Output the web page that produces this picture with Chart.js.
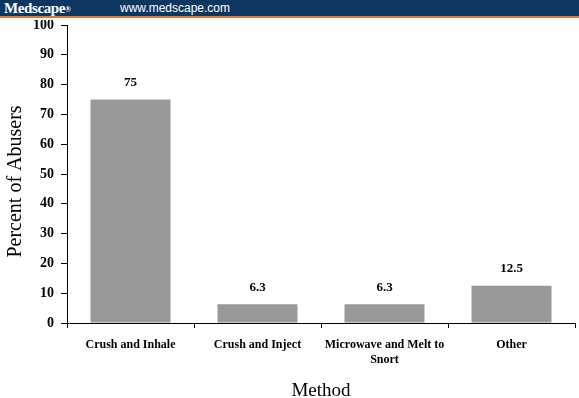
<!DOCTYPE html>
<html>
<head>
<meta charset="utf-8">
<script src="https://cdn.jsdelivr.net/npm/chart.js@4/dist/chart.umd.min.js"></script>
<style>
  html, body { margin: 0; padding: 0; background: #fff; }
  body { width: 579px; height: 398px; position: relative; overflow: hidden; }
  #hdr { position: absolute; left: 0; top: 0; width: 579px; height: 16px; background: #0d3760; border-bottom: 2px solid #e8772e; }
  #hdr .brand { position: absolute; left: 4px; top: 0px; font: bold 15px "Liberation Serif", serif; color: #fff; line-height: 16px; letter-spacing: -0.4px; }
  #hdr .brand sup { font-size: 8px; vertical-align: 1px; }
  #hdr .url { position: absolute; left: 120px; top: 0px; font: 12px "Liberation Sans", Arial, sans-serif; color: #fff; line-height: 16px; }
  #wrap { position: absolute; left: 0; top: 20px; width: 579px; height: 378px; }
</style>
</head>
<body>
<div id="hdr"><span class="brand">Medscape<sup>®</sup></span><span class="url">www.medscape.com</span></div>
<div id="wrap"><canvas id="c" width="579" height="378"></canvas></div>
<script>
const categories = ["Crush and Inhale", "Crush and Inject", ["Microwave and Melt to", "Snort"], "Other"];
const percentValues = [75, 6.3, 6.3, 12.5];
const valueLabels = ["75", "6.3", "6.3", "12.5"];
const yTicks = [0, 10, 20, 30, 40, 50, 60, 70, 80, 90, 100];

const serif = '"Liberation Serif", "Times New Roman", serif';

const valueLabelPlugin = {
  id: 'valueLabels',
  afterDatasetsDraw(chart) {
    const ctx = chart.ctx;
    const meta = chart.getDatasetMeta(0);
    ctx.save();
    ctx.font = 'bold 13px ' + serif;
    ctx.fillStyle = '#000';
    ctx.textAlign = 'center';
    ctx.textBaseline = 'middle';
    meta.data.forEach((bar, i) => {
      ctx.fillText(valueLabels[i], bar.x, bar.y - 17);
    });
    ctx.restore();
  }
};

new Chart(document.getElementById('c'), {
  type: 'bar',
  data: {
    labels: categories,
    datasets: [{
      data: percentValues,
      backgroundColor: '#999999',
      borderWidth: 0,
      categoryPercentage: 0.63,
      barPercentage: 1.0
    }]
  },
  options: {
    responsive: false,
    animation: false,
    devicePixelRatio: 1,
    layout: { padding: { top: 5, right: 4, left: 0, bottom: 0 } },
    plugins: { legend: { display: false }, tooltip: { enabled: false } },
    scales: {
      x: {
        offset: true,
        grid: { display: true, drawOnChartArea: false, drawTicks: true, tickLength: 5, color: '#000', offset: true },
        border: { display: true, color: '#000', width: 1 },
        ticks: { color: '#000', font: { family: serif, size: 12, weight: 'bold' }, padding: 10, maxRotation: 0, autoSkip: false },
        title: { display: true, text: 'Method', color: '#000', font: { family: serif, size: 19 }, padding: { top: 20, bottom: -4 } },
        afterFit(scale) { scale.height = 75; scale.paddingLeft = 0; scale.paddingRight = 0; }
      },
      y: {
        min: 0, max: 100,
        afterBuildTicks(scale) { scale.ticks = yTicks.map(v => ({ value: v })); },
        grid: { display: true, drawOnChartArea: false, drawTicks: true, tickLength: 6, color: '#000' },
        border: { display: true, color: '#000', width: 1 },
        ticks: { color: '#000', font: { family: serif, size: 14, weight: 'bold' }, padding: 7 },
        title: { display: true, text: 'Percent of Abusers   ', color: '#000', font: { family: serif, size: 20 }, padding: { top: 4, bottom: 6 } },
        afterFit(scale) { scale.width = 67; scale.paddingTop = 0; scale.paddingBottom = 0; }
      }
    }
  },
  plugins: [valueLabelPlugin]
});
</script>
</body>
</html>
